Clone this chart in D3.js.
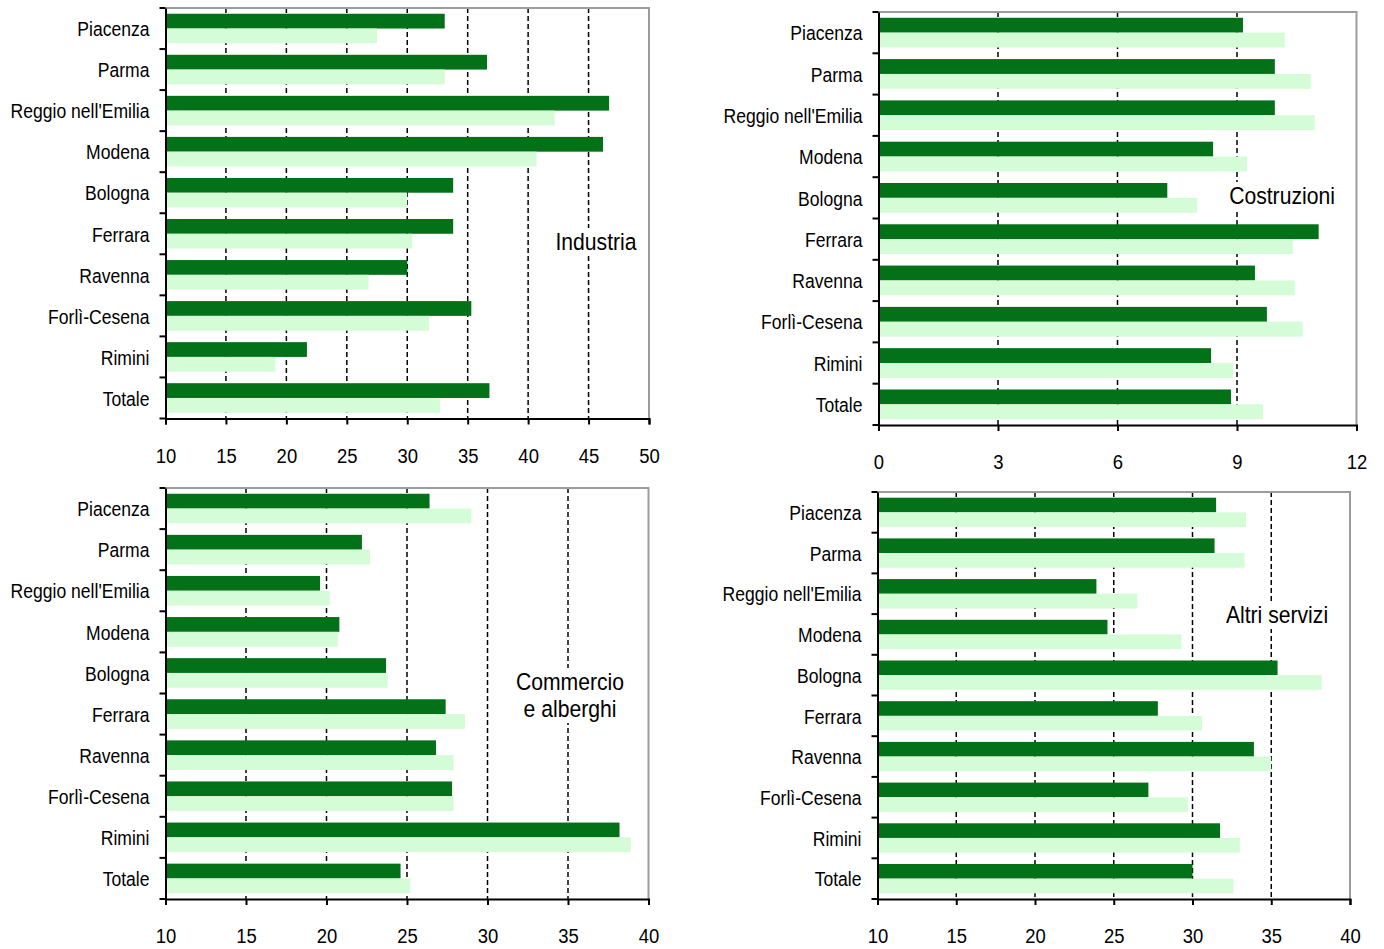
<!DOCTYPE html>
<html>
<head>
<meta charset="utf-8">
<script src="https://cdn.jsdelivr.net/npm/d3@7"></script>
<style>
  html, body { margin: 0; padding: 0; background: #fff; }
  svg { display: block; font-family: "Liberation Sans", Arial, sans-serif; }
</style>
</head>
<body>
<svg id="chart" width="1384" height="949"></svg>
<script>
// Province dell'Emilia-Romagna
const categorie = ["Piacenza", "Parma", "Reggio nell'Emilia", "Modena", "Bologna",
                   "Ferrara", "Ravenna", "Forlì-Cesena", "Rimini", "Totale"];

// Industria
const industriaScura = [33.1, 36.6, 46.7, 46.2, 33.8, 33.8, 30.0, 35.3, 21.7, 36.8];
const industriaChiara = [27.5, 33.1, 42.2, 40.7, 30.0, 30.4, 26.8, 31.8, 19.1, 32.7];
const industriaTicks = [10, 15, 20, 25, 30, 35, 40, 45, 50];

// Costruzioni
const costruzioniScura = [9.15, 9.95, 9.95, 8.4, 7.25, 11.05, 9.45, 9.75, 8.35, 8.85];
const costruzioniChiara = [10.2, 10.85, 10.95, 9.25, 8.0, 10.4, 10.45, 10.65, 8.9, 9.65];
const costruzioniTicks = [0, 3, 6, 9, 12];

// Commercio e alberghi
const commercioScura = [26.4, 22.2, 19.6, 20.8, 23.7, 27.4, 26.8, 27.8, 38.2, 24.6];
const commercioChiara = [29.0, 22.7, 20.2, 20.7, 23.8, 28.6, 27.9, 27.9, 38.9, 25.2];
const commercioTicks = [10, 15, 20, 25, 30, 35, 40];

// Altri servizi
const serviziScura = [31.5, 31.4, 23.9, 24.6, 35.4, 27.8, 33.9, 27.2, 31.75, 30.0];
const serviziChiara = [33.4, 33.3, 26.5, 29.3, 38.2, 30.6, 35.0, 29.7, 33.0, 32.6];
const serviziTicks = [10, 15, 20, 25, 30, 35, 40];

const coloreScuro = "#037118";
const coloreChiaro = "#d4fcd6";

const pannelli = [
  { titolo: ["Industria"], scura: industriaScura, chiara: industriaChiara, ticks: industriaTicks,
    left: 165.5, right: 649, top: 8, bottom: 418.5, tx: 596, ty: 242 },
  { titolo: ["Costruzioni"], scura: costruzioniScura, chiara: costruzioniChiara, ticks: costruzioniTicks,
    left: 878.5, right: 1356.5, top: 12, bottom: 425, tx: 1282, ty: 196 },
  { titolo: ["Commercio", "e alberghi"], scura: commercioScura, chiara: commercioChiara, ticks: commercioTicks,
    left: 165.5, right: 648.5, top: 488, bottom: 899, tx: 570, ty: 682 },
  { titolo: ["Altri servizi"], scura: serviziScura, chiara: serviziChiara, ticks: serviziTicks,
    left: 877.5, right: 1350, top: 492, bottom: 899, tx: 1277, ty: 615 }
];

const svg = d3.select("#chart");
const SX = 0.9; // narrow type

pannelli.forEach(p => {
  const g = svg.append("g");
  const x = d3.scaleLinear()
    .domain([p.ticks[0], p.ticks[p.ticks.length - 1]])
    .range([p.left, p.right]);
  const y = d3.scaleBand().domain(categorie).range([p.top, p.bottom]).padding(0);
  const bw = y.bandwidth();
  const pad = bw * 0.14, bh = bw * 0.36;

  // dashed gridlines
  g.append("g").selectAll("line")
    .data(p.ticks.slice(1, -1))
    .join("line")
    .attr("x1", d => x(d)).attr("x2", d => x(d))
    .attr("y1", p.top).attr("y2", p.bottom)
    .attr("stroke", "#000").attr("stroke-width", 1.5)
    .attr("stroke-dasharray", "5,3");

  // frame: top and right in grey
  g.append("path")
    .attr("d", `M${p.left},${p.top}H${p.right}V${p.bottom}`)
    .attr("fill", "none").attr("stroke", "#9c9c9c").attr("stroke-width", 2);

  const x0 = x.domain()[0];
  g.append("g").selectAll("rect")
    .data(categorie.map((c, i) => ({ c, v: p.scura[i] })))
    .join("rect")
    .attr("x", x(x0)).attr("y", d => y(d.c) + pad)
    .attr("width", d => x(d.v) - x(x0)).attr("height", bh)
    .attr("fill", coloreScuro);

  g.append("g").selectAll("rect")
    .data(categorie.map((c, i) => ({ c, v: p.chiara[i] })))
    .join("rect")
    .attr("x", x(x0)).attr("y", d => y(d.c) + pad + bh)
    .attr("width", d => x(d.v) - x(x0)).attr("height", bh)
    .attr("fill", coloreChiaro);

  // bottom axis
  const ax = g.append("g")
    .attr("transform", `translate(0,${p.bottom})`)
    .call(d3.axisBottom(x).tickValues(p.ticks).tickSize(6).tickSizeOuter(6).tickFormat(d3.format("d")));
  ax.selectAll("path, line").attr("stroke", "#000").attr("stroke-width", 2);
  ax.selectAll("text")
    .attr("y", 37).attr("dy", "0.35em")
    .attr("font-size", 20.5).attr("fill", "#000")
    .attr("transform", `scale(${SX},1)`);

  // left axis with category labels
  const ay = g.append("g")
    .attr("transform", `translate(${p.left},0)`)
    .call(d3.axisLeft(y).tickSize(0).tickPadding(16));
  ay.select(".domain").attr("stroke", "#000").attr("stroke-width", 2);
  ay.selectAll("text")
    .attr("font-size", 19.5).attr("fill", "#000")
    .attr("transform", `translate(0,1.5) scale(${SX},1)`)
    .attr("x", -16 / SX)
    .attr("dy", "0.32em");

  // category boundary ticks
  const confini = categorie.map(c => y(c)).concat([p.bottom]);
  g.append("g").selectAll("line")
    .data(confini)
    .join("line")
    .attr("x1", p.left - 6).attr("x2", p.left)
    .attr("y1", d => d).attr("y2", d => d)
    .attr("stroke", "#000").attr("stroke-width", 2);

  // panel title on white background
  const tg = g.append("g");
  const lh = 27;
  const testi = tg.selectAll("text")
    .data(p.titolo)
    .join("text")
    .attr("transform", (d, i) => `translate(${p.tx},${p.ty + i * lh}) scale(${SX},1)`)
    .attr("text-anchor", "middle")
    .attr("dy", "0.35em")
    .attr("font-size", 23.5)
    .attr("fill", "#000")
    .text(d => d);
  let maxW = 0;
  testi.each(function () { maxW = Math.max(maxW, this.getBBox().width * SX); });
  tg.insert("rect", "text")
    .attr("x", p.tx - maxW / 2 - 3)
    .attr("y", p.ty - 14)
    .attr("width", maxW + 6)
    .attr("height", 28 + (p.titolo.length - 1) * lh)
    .attr("fill", "#fff");
});
</script>
</body>
</html>
